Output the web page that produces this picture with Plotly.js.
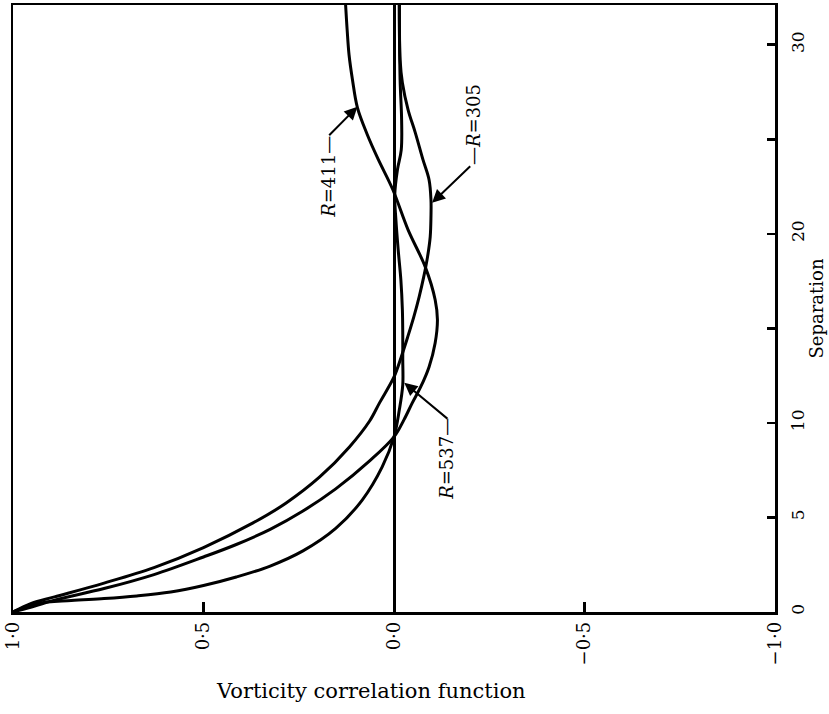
<!DOCTYPE html>
<html><head><meta charset="utf-8">
<script src="https://cdn.plot.ly/plotly-3.0.1.min.js"></script>
<style>html,body{margin:0;padding:0;background:#fff}</style>
</head><body><div id="chart" style="width:829px;height:714px"></div>
<script>
// Separation (vertical axis) and vorticity correlation (horizontal axis) for each Reynolds number
const sepR305  = [0, 0.46, 0.80, 1.53, 2.35, 3.41, 4.71, 5.75, 7.14, 8.73, 10.1, 11.06, 12.43, 13.49, 14.55, 15.61, 16.67, 17.72, 18.78, 19.84, 20.9, 21.8, 22.86, 23.92, 25.34, 26.56, 27.99, 29.2, 32.1];
const corrR305 = [1.0, 0.952, 0.891, 0.761, 0.630, 0.500, 0.370, 0.284, 0.195, 0.117, 0.064, 0.038, 0.0, -0.019, -0.036, -0.052, -0.066, -0.078, -0.088, -0.095, -0.097, -0.097, -0.092, -0.076, -0.056, -0.037, -0.022, -0.016, -0.014];

const sepR411  = [0, 0.32, 0.63, 1.24, 1.98, 2.91, 3.57, 4.37, 5.34, 6.51, 7.99, 9.26, 10.16, 11.06, 11.90, 12.96, 14.23, 15.45, 16.51, 18.25, 20.21, 22.33, 23.92, 25.24, 26.67, 28.15, 29.47, 30.79, 32.1];
const corrR411 = [1.0, 0.943, 0.891, 0.761, 0.630, 0.500, 0.414, 0.325, 0.239, 0.153, 0.064, 0.0, -0.026, -0.048, -0.070, -0.092, -0.108, -0.114, -0.108, -0.082, -0.037, 0.003, 0.041, 0.070, 0.096, 0.109, 0.118, 0.123, 0.127];

const sepR537  = [0, 0.45, 0.61, 0.71, 0.85, 1.06, 1.40, 1.85, 2.43, 3.23, 4.42, 5.93, 7.67, 9.26, 10.69, 12.01, 13.33, 14.66, 15.98, 17.57, 19.15, 20.74, 22.06, 23.39, 24.44, 26.03, 28.15, 32.1];
const corrR537 = [1.0, 0.935, 0.847, 0.761, 0.675, 0.586, 0.500, 0.414, 0.325, 0.239, 0.153, 0.083, 0.031, 0.0, -0.014, -0.023, -0.023, -0.023, -0.022, -0.018, -0.011, -0.005, -0.002, -0.009, -0.019, -0.020, -0.016, -0.014];

const xTickVals = [1, 0.5, 0, -0.5, -1];
const xTickText = ['1\u00b70', '0\u00b75', '0\u00b70', '\u22120\u00b75', '\u22121\u00b70'];
const yTickVals = [0, 5, 10, 15, 20, 25, 30];
const yTickText = ['0', '5', '10', '', '20', '', '30'];

const xTitle = 'Vorticity correlation function';
const yTitle = 'Separation';

// curve labels: text, label centre, arrow tail, arrow head (data units: correlation, separation)
const labelText = ['<i>R</i>=411\u2014', '\u2014<i>R</i>=305', '<i>R</i>=537\u2014'];
const labelCorr = [0.174, -0.207, -0.139];
const labelSep  = [23.0, 25.8, 8.1];
const tailCorr  = [0.174, -0.204, -0.144];
const tailSep   = [25.13, 23.65, 10.16];
const headCorr  = [0.096, -0.100, -0.027];
const headSep   = [26.72, 21.64, 12.12];

const FONT = 'DejaVu Serif, Liberation Serif, serif';
const lineStyle = {color: '#000', width: 3, shape: 'spline', smoothing: 1.0};

const traces = [
  {x: corrR305, y: sepR305, mode: 'lines', line: lineStyle, hoverinfo: 'skip'},
  {x: corrR411, y: sepR411, mode: 'lines', line: lineStyle, hoverinfo: 'skip'},
  {x: corrR537, y: sepR537, mode: 'lines', line: lineStyle, hoverinfo: 'skip'}
];

const annotations = [];
for (let i = 0; i < labelText.length; i++) {
  annotations.push({
    x: labelCorr[i], y: labelSep[i], xref: 'x', yref: 'y',
    text: labelText[i], showarrow: false, textangle: -90,
    xanchor: 'center', yanchor: 'middle',
    font: {family: FONT, size: 18, color: '#000'}
  });
  annotations.push({
    x: headCorr[i], y: headSep[i], xref: 'x', yref: 'y',
    ax: tailCorr[i], ay: tailSep[i], axref: 'x', ayref: 'y',
    text: ' ', showarrow: true, arrowhead: 2, arrowsize: 1.3, arrowwidth: 2,
    arrowcolor: '#000', standoff: 0, startstandoff: 0,
    font: {size: 1}
  });
}
annotations.push({
  x: 0.47, y: -0.13, xref: 'paper', yref: 'paper',
  text: xTitle, showarrow: false, xanchor: 'center', yanchor: 'middle',
  font: {family: FONT, size: 21, color: '#000'}
});

const layout = {
  width: 829, height: 714,
  margin: {l: 13, r: 54, t: 5, b: 102},
  paper_bgcolor: '#fff', plot_bgcolor: '#fff',
  showlegend: false,
  xaxis: {
    range: [1, -1], tickvals: xTickVals, ticktext: xTickText, tickangle: -90,
    ticks: 'inside', ticklen: 10, tickwidth: 2.5, tickcolor: '#000',
    showline: true, linecolor: '#000', linewidth: 2.5, mirror: true,
    zeroline: true, zerolinecolor: '#000', zerolinewidth: 3,
    showgrid: false, automargin: false, ticklabeloverflow: 'allow',
    tickfont: {family: FONT, size: 18, color: '#000'}
  },
  yaxis: {
    side: 'right', range: [0, 32.1], tickvals: yTickVals, ticktext: yTickText, tickangle: -90,
    ticks: 'inside', ticklen: 8, tickwidth: 2.5, tickcolor: '#000',
    showline: true, linecolor: '#000', linewidth: 2.5, mirror: true,
    zeroline: false, showgrid: false, automargin: false, ticklabeloverflow: 'allow',
    ticklabelstandoff: 6,
    tickfont: {family: FONT, size: 17, color: '#000'},
    title: {text: yTitle, font: {family: FONT, size: 18, color: '#000'}, standoff: 4}
  },
  annotations: annotations
};

Plotly.newPlot('chart', traces, layout, {displayModeBar: false, staticPlot: true});
</script>
</body></html>
